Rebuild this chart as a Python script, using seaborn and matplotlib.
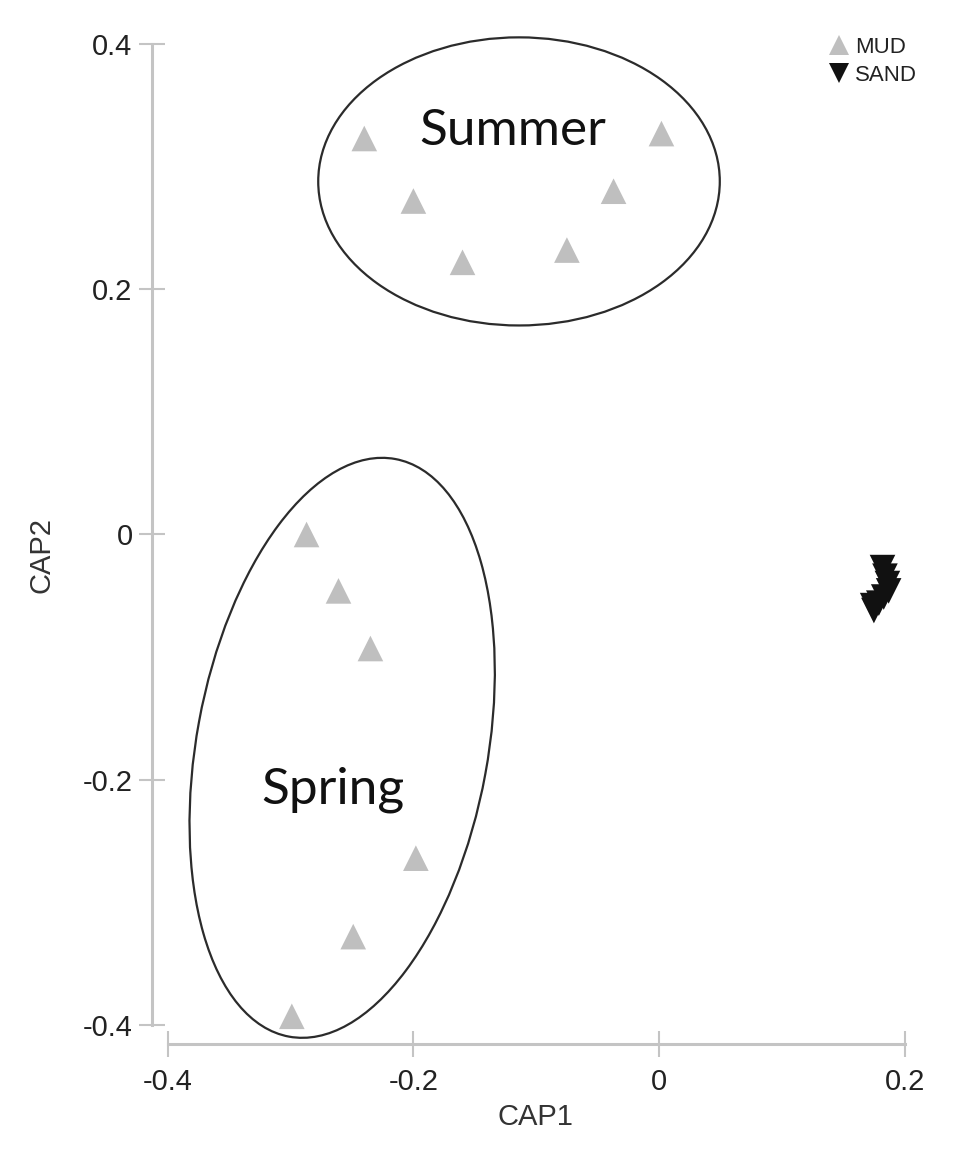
import numpy as np
import pandas as pd
import matplotlib
matplotlib.use("Agg")
import matplotlib.pyplot as plt
from matplotlib.patches import Ellipse
import seaborn as sns

# ---- data ----
mud_x = [-0.240, -0.200, -0.160, -0.075, -0.037, 0.002,
         -0.287, -0.261, -0.235, -0.198, -0.249, -0.299]
mud_y = [0.323, 0.272, 0.222, 0.232, 0.280, 0.327,
         0.000, -0.046, -0.093, -0.264, -0.328, -0.393]
sand_x = [0.182, 0.184, 0.186, 0.187, 0.183, 0.179, 0.175, 0.174]
sand_y = [-0.027, -0.034, -0.040, -0.046, -0.051, -0.056, -0.062, -0.058]
groups = ["MUD", "SAND"]
x_ticks = [-0.4, -0.2, 0, 0.2]
y_ticks = [-0.4, -0.2, 0, 0.2, 0.4]
x_ticklabels = ["-0.4", "-0.2", "0", "0.2"]
y_ticklabels = ["-0.4", "-0.2", "0", "0.2", "0.4"]

# ellipses: (center x, center y, width, height, angle)
summer_ell = (-0.114, 0.288, 0.327, 0.235, 0.0)
spring_ell = (-0.258, -0.174, 0.237, 0.479, -10.4)

df = pd.DataFrame({
    "CAP1": mud_x + sand_x,
    "CAP2": mud_y + sand_y,
    "Sediment": [groups[0]] * len(mud_x) + [groups[1]] * len(sand_x),
})

sns.set_style("ticks")
plt.rcParams["font.family"] = ["Liberation Sans", "DejaVu Sans"]

W, H = 975, 1155
fig = plt.figure(figsize=(W / 100, H / 100), dpi=100)

# axes placement in pixels
x0_px, x1_px = 152, 960
y_top_px, y_bot_px = 20, 1044
ax = fig.add_axes([x0_px / W, 1 - y_bot_px / H, (x1_px - x0_px) / W, (y_bot_px - y_top_px) / H])

def px2x(p):
    return (p - 659) / 1228.0

def px2y(p):
    return (534.5 - p) / 1226.0

ax.set_xlim(px2x(x0_px), px2x(x1_px))
ax.set_ylim(px2y(y_bot_px), px2y(y_top_px))

palette = {"MUD": "#bfbfbf", "SAND": "#111111"}
markers = {"MUD": "^", "SAND": "v"}
sns.scatterplot(data=df, x="CAP1", y="CAP2", hue="Sediment", style="Sediment",
                palette=palette, markers=markers, s=340, edgecolor="none",
                linewidth=0, ax=ax, legend=True, zorder=3, clip_on=False)

# ellipses
for (cx, cy, w, h, a) in (summer_ell, spring_ell):
    ax.add_patch(Ellipse((cx, cy), w, h, angle=a, fill=False,
                         edgecolor="#2b2b2b", linewidth=1.6, zorder=2))

# group labels
ax.text(-0.119, 0.3177, "Summer", family=["Lato", "DejaVu Sans"], fontsize=37,
        ha="center", va="baseline", color="#111111")
ax.text(-0.2655, -0.2198, "Spring", family=["Lato", "DejaVu Sans"], fontsize=37,
        ha="center", va="baseline", color="#111111")

# spines
for s in ("top", "right"):
    ax.spines[s].set_visible(False)
spine_col = "#c4c4c4"
ax.spines["left"].set_bounds(-0.4, 0.4)
ax.spines["bottom"].set_bounds(-0.4, 0.2)
for s in ("left", "bottom"):
    ax.spines[s].set_color(spine_col)
    ax.spines[s].set_linewidth(2.2)

ax.set_xticks(x_ticks)
ax.set_xticklabels(x_ticklabels)
ax.set_yticks(y_ticks)
ax.set_yticklabels(y_ticklabels)
ax.tick_params(axis="both", which="major", direction="inout", length=19, width=1.5,
               color=spine_col, labelsize=21, labelcolor="#222222",
               bottom=True, left=True, top=False, right=False)
ax.tick_params(axis="x", pad=8)
ax.tick_params(axis="y", pad=4.5)

ax.set_xlabel("CAP1", fontsize=21, color="#333333")
ax.set_ylabel("CAP2", fontsize=21, color="#333333")
ax.xaxis.set_label_coords((535 - x0_px) / (x1_px - x0_px), -(1117 - y_bot_px) / (y_bot_px - y_top_px))
ax.yaxis.set_label_coords(-(152 - 42) / (x1_px - x0_px), (y_bot_px - 555) / (y_bot_px - y_top_px))
ax.xaxis.label.set_va("center")
ax.yaxis.label.set_va("center")

# legend
handles, labels = ax.get_legend_handles_labels()
leg = ax.legend(handles, labels, loc="upper left",
                bbox_to_anchor=(826 / W, 1 - 37 / H), bbox_transform=fig.transFigure,
                frameon=False, fontsize=16, markerscale=0.75, handletextpad=0.1,
                handlelength=1.2, labelspacing=0.3, borderpad=0, borderaxespad=0)
for t in leg.get_texts():
    t.set_color("#222222")

fig.savefig("out.png", dpi=100, facecolor="white")
